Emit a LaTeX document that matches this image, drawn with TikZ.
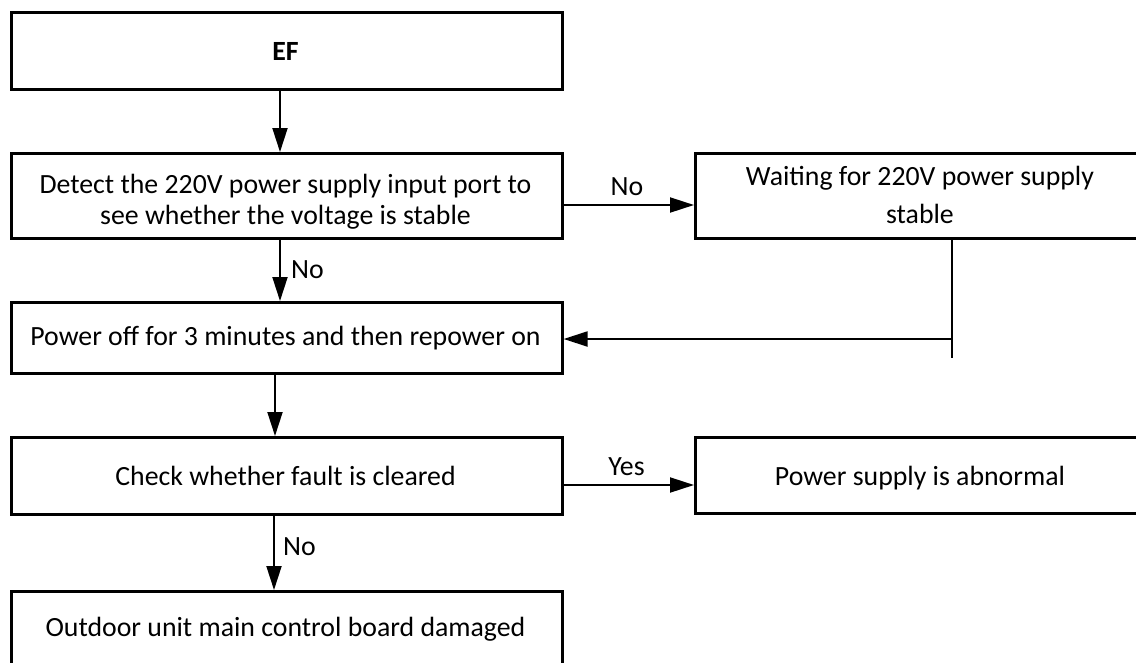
\documentclass[tikz,border=0pt]{standalone}
\usepackage{fontspec}
\setmainfont{Carlito}
\usetikzlibrary{arrows.meta}
\begin{document}
\begin{tikzpicture}[x=1pt,y=-1pt,
  box/.style={draw=black, line width=2.6pt, inner sep=0pt, anchor=north west},
  txt/.style={font=\fontsize{27.8}{31}\selectfont, anchor=base, inner sep=0pt, align=center},
  lbl/.style={font=\fontsize{27.8}{31}\selectfont, anchor=base, inner sep=0pt},
  conn/.style={line width=2pt, -{Triangle[length=24pt,width=15pt]}},
  plain/.style={line width=2pt},
]
\useasboundingbox (0,0) rectangle (1136,662);
\clip (0,0) rectangle (1136,662);
% boxes
\node[box, minimum width=551pt, minimum height=77pt] (ef) at (10,11) {};
\node[box, minimum width=551pt, minimum height=85pt] (detect) at (10,152) {};
\node[box, minimum width=551pt, minimum height=71pt] (poweroff) at (10,301) {};
\node[box, minimum width=551pt, minimum height=77pt] (check) at (10,436) {};
\node[box, minimum width=551pt, minimum height=90pt] (outdoor) at (10,590) {};
\node[box, minimum width=452pt, minimum height=85pt] (waiting) at (694,152) {};
\node[box, minimum width=452pt, minimum height=76pt] (abnormal) at (694,436) {};
% texts (base anchor of a two-line node is its last line)
\node[txt, font=\fontsize{27.8}{31}\selectfont\bfseries] (efT) at (285.5,60) {EF};
\node[txt] (detectT) at (285.5,224) {Detect the 220V power supply input port to\\see whether the voltage is stable};
\node[txt, font=\fontsize{27.8}{38}\selectfont] (waitingT) at (920,223) {Waiting for 220V power supply\\stable};
\node[txt] (poweroffT) at (285.5,345) {Power off for 3 minutes and then repower on};
\node[txt] (checkT) at (285.5,485) {Check whether fault is cleared};
\node[txt] (abnormalT) at (920,485) {Power supply is abnormal};
\node[txt] (outdoorT) at (285.5,636) {Outdoor unit main control board damaged};
% coordinates
\coordinate (c1) at (280,0);
\coordinate (c2) at (275,0);
\coordinate (c3) at (274,0);
\coordinate (r1) at (0,205);
\coordinate (r2) at (0,339);
\coordinate (r3) at (0,485);
\coordinate (v) at (952,358);
% connectors
\draw[conn] (c1 |- ef.south) -- (c1 |- detect.north);
\draw[conn] (detect.east |- r1) -- (waiting.west |- r1);
\draw[conn] (c1 |- detect.south) -- (c1 |- poweroff.north);
\draw[plain] (v |- waiting.south) -- (v);
\draw[conn] (v |- r2) -- (poweroff.east |- r2);
\draw[conn] (c2 |- poweroff.south) -- (c2 |- check.north);
\draw[conn] (check.east |- r3) -- (abnormal.west |- r3);
\draw[conn] (c3 |- check.south) -- (c3 |- outdoor.north);
% labels
\node[lbl] (no1) at (627,195) {No};
\node[lbl, anchor=base west] (no2) at (291,278) {No};
\node[lbl] (yes) at (626.5,475) {Yes};
\node[lbl, anchor=base west] (no3) at (283,555) {No};
\end{tikzpicture}
\end{document}
